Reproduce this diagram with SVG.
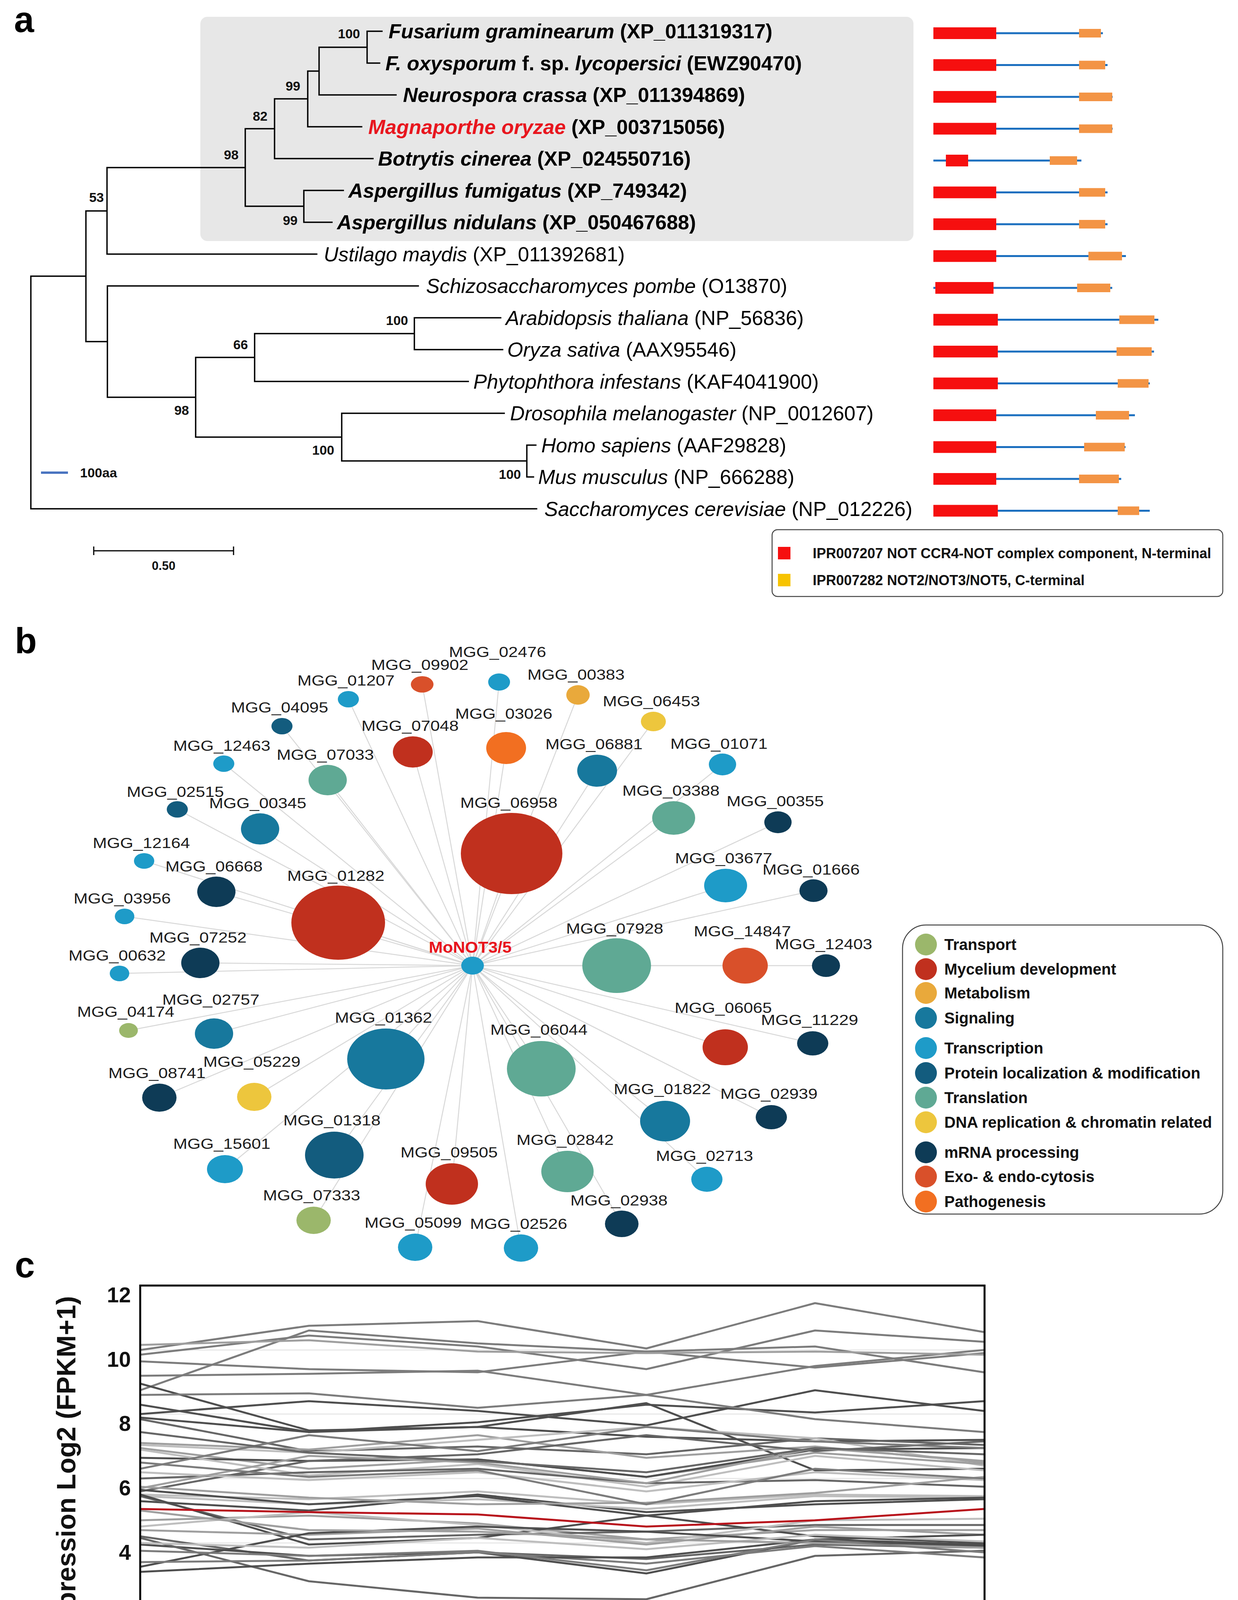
<svg xmlns="http://www.w3.org/2000/svg" width="3170" height="4397" viewBox="0 0 3170 4397">
<style>
text{font-family:"Liberation Sans",Arial,sans-serif}
.pl{font-size:92px;font-weight:bold;fill:#000}
.br{stroke:#000;stroke-width:3.5;fill:none;stroke-linecap:square}
.sp{font-size:52px;fill:#000}
.b{font-weight:bold}
.i{font-style:italic}
.bs{font-size:34px;font-weight:bold;text-anchor:end;fill:#111}
.dl{stroke:#1b6fbf;stroke-width:5}
.dr{fill:#f60f0f}
.do{fill:#f39445}
.leg{font-size:36px;font-weight:bold;fill:#111}
.edge{stroke:#d8d8d8;stroke-width:2.5}
.lab{font-size:36px;fill:#1c1c1c;text-anchor:middle}
.lt{font-size:40px;font-weight:bold;fill:#111}
.c1{fill:#9bb76b}.c2{fill:#c0301e}.c3{fill:#e9a93b}.c4{fill:#17789d}.c5{fill:#1e9bc8}.c6{fill:#135c7e}.c7{fill:#5fa994}.c8{fill:#edc63d}.c9{fill:#0e3b56}.c10{fill:#d9502a}.c11{fill:#f26f21}
.grid{stroke:#e8e8e8;stroke-width:3}
.ln{fill:none;stroke-width:5;stroke-linejoin:round}
.g1{stroke:#7c7c7c}.g2{stroke:#4e4e4e}.g3{stroke:#9f9f9f}.g4{stroke:#bebebe}.g5{stroke:#666}
.tk{font-size:55px;font-weight:bold;text-anchor:end;fill:#111}
.xl{font-size:56px;font-weight:bold;text-anchor:middle;fill:#111}
</style>

<!-- ================= Panel a ================= -->
<text class="pl" x="36" y="82">a</text>
<rect x="513" y="43" width="1826" height="574" rx="18" fill="#e7e7e7"/>

<g id="tree">
<path class="br" d="M940 80V161.5M940 80H978M940 161.5H972
M817 121V243M817 121H940M817 243H1014
M788 182V324.5M788 182H817M788 324.5H926
M703 253V406M703 253H788M703 406H955
M778 487.5V569M778 487.5H879M778 569H850
M628 329.5V528M628 329.5H703M628 528H778
M274 429V650.5M274 429H628M274 650.5H811
M1061 813.5V895M1061 813.5H1282M1061 895H1287
M652 854V976.5M652 854H1061M652 976.5H1199
M1349 1139.5V1221M1349 1139.5H1372M1349 1221H1366
M875 1058V1180M875 1058H1291M875 1180H1349
M501 915V1119M501 915H652M501 1119H875
M275 732V1017M275 732H1071M275 1017H501
M220 540V874.5M220 540H274M220 874.5H275
M79 707V1302.5M79 707H220M79 1302.5H1374"/>
<text class="bs" x="922" y="98">100</text>
<text class="bs" x="769" y="232">99</text>
<text class="bs" x="685" y="309">82</text>
<text class="bs" x="611" y="408">98</text>
<text class="bs" x="762" y="576">99</text>
<text class="bs" x="266" y="517">53</text>
<text class="bs" x="1045" y="832">100</text>
<text class="bs" x="635" y="894">66</text>
<text class="bs" x="484" y="1062">98</text>
<text class="bs" x="856" y="1164">100</text>
<text class="bs" x="1334" y="1226">100</text>
</g>

<g id="tax-fusarium"><text class="sp b" x="995" y="98"><tspan class="i">Fusarium graminearum</tspan> (XP_011319317)</text>
<line class="dl" x1="2390" y1="85" x2="2824" y2="85"/><rect class="dr" x="2390" y="70" width="161" height="30"/><rect class="do" x="2763" y="74" width="56" height="22"/></g>
<g id="tax-foxysporum"><text class="sp b" x="987" y="179.5"><tspan class="i">F. oxysporum</tspan> f. sp. <tspan class="i">lycopersici</tspan> (EWZ90470)</text>
<line class="dl" x1="2390" y1="166.5" x2="2836" y2="166.5"/><rect class="dr" x="2390" y="151.5" width="161" height="30"/><rect class="do" x="2763" y="155.5" width="67" height="22"/></g>
<g id="tax-neurospora"><text class="sp b" x="1032" y="261"><tspan class="i">Neurospora crassa</tspan> (XP_011394869)</text>
<line class="dl" x1="2390" y1="248" x2="2849" y2="248"/><rect class="dr" x="2390" y="233" width="161" height="30"/><rect class="do" x="2763" y="237" width="85" height="22"/></g>
<g id="tax-magnaporthe"><text class="sp b" x="943" y="342.5"><tspan class="i" fill="#e8161e">Magnaporthe oryzae</tspan> (XP_003715056)</text>
<line class="dl" x1="2390" y1="329.5" x2="2849" y2="329.5"/><rect class="dr" x="2390" y="314.5" width="161" height="30"/><rect class="do" x="2763" y="318.5" width="85" height="22"/></g>
<g id="tax-botrytis"><text class="sp b" x="968" y="424"><tspan class="i">Botrytis cinerea</tspan> (XP_024550716)</text>
<line class="dl" x1="2390" y1="411" x2="2769" y2="411"/><rect class="dr" x="2422" y="396" width="57" height="30"/><rect class="do" x="2688" y="400" width="70" height="22"/></g>
<g id="tax-afumigatus"><text class="sp b" x="892" y="505.5"><tspan class="i">Aspergillus fumigatus</tspan> (XP_749342)</text>
<line class="dl" x1="2390" y1="492.5" x2="2836" y2="492.5"/><rect class="dr" x="2390" y="477.5" width="161" height="30"/><rect class="do" x="2763" y="481.5" width="67" height="22"/></g>
<g id="tax-anidulans"><text class="sp b" x="863" y="587"><tspan class="i">Aspergillus nidulans</tspan> (XP_050467688)</text>
<line class="dl" x1="2390" y1="574" x2="2836" y2="574"/><rect class="dr" x="2390" y="559" width="161" height="30"/><rect class="do" x="2763" y="563" width="67" height="22"/></g>
<g id="tax-ustilago"><text class="sp" x="829" y="668.5"><tspan class="i">Ustilago maydis</tspan> (XP_011392681)</text>
<line class="dl" x1="2390" y1="655.5" x2="2883" y2="655.5"/><rect class="dr" x="2390" y="640.5" width="161" height="30"/><rect class="do" x="2787" y="644.5" width="86" height="22"/></g>
<g id="tax-schizo"><text class="sp" x="1091" y="750"><tspan class="i">Schizosaccharomyces pombe</tspan> (O13870)</text>
<line class="dl" x1="2390" y1="737" x2="2848" y2="737"/><rect class="dr" x="2395" y="722" width="149" height="30"/><rect class="do" x="2758" y="726" width="85" height="22"/></g>
<g id="tax-arabidopsis"><text class="sp" x="1295" y="831.5"><tspan class="i">Arabidopsis thaliana</tspan> (NP_56836)</text>
<line class="dl" x1="2390" y1="818.5" x2="2966" y2="818.5"/><rect class="dr" x="2390" y="803.5" width="165" height="30"/><rect class="do" x="2866" y="807.5" width="90" height="22"/></g>
<g id="tax-oryza"><text class="sp" x="1299" y="913"><tspan class="i">Oryza sativa</tspan> (AAX95546)</text>
<line class="dl" x1="2390" y1="900" x2="2955" y2="900"/><rect class="dr" x="2390" y="885" width="165" height="30"/><rect class="do" x="2859" y="889" width="90" height="22"/></g>
<g id="tax-phytophthora"><text class="sp" x="1212" y="994.5"><tspan class="i">Phytophthora infestans</tspan> (KAF4041900)</text>
<line class="dl" x1="2390" y1="981.5" x2="2944" y2="981.5"/><rect class="dr" x="2390" y="966.5" width="165" height="30"/><rect class="do" x="2862" y="970.5" width="79" height="22"/></g>
<g id="tax-drosophila"><text class="sp" x="1306" y="1076"><tspan class="i">Drosophila melanogaster</tspan> (NP_0012607)</text>
<line class="dl" x1="2390" y1="1063" x2="2906" y2="1063"/><rect class="dr" x="2390" y="1048" width="161" height="30"/><rect class="do" x="2806" y="1052" width="85" height="22"/></g>
<g id="tax-homo"><text class="sp" x="1386" y="1157.5"><tspan class="i">Homo sapiens</tspan> (AAF29828)</text>
<line class="dl" x1="2390" y1="1144.5" x2="2882" y2="1144.5"/><rect class="dr" x="2390" y="1129.5" width="161" height="30"/><rect class="do" x="2776" y="1133.5" width="104" height="22"/></g>
<g id="tax-mus"><text class="sp" x="1378" y="1239"><tspan class="i">Mus musculus</tspan> (NP_666288)</text>
<line class="dl" x1="2390" y1="1226" x2="2871" y2="1226"/><rect class="dr" x="2390" y="1211" width="161" height="30"/><rect class="do" x="2763" y="1215" width="102" height="22"/></g>
<g id="tax-saccharomyces"><text class="sp" x="1394" y="1320.5"><tspan class="i">Saccharomyces cerevisiae</tspan> (NP_012226)</text>
<line class="dl" x1="2390" y1="1307.5" x2="2944" y2="1307.5"/><rect class="dr" x="2390" y="1292.5" width="165" height="30"/><rect class="do" x="2862" y="1296.5" width="55" height="22"/></g>

<g id="scale-100aa"><line x1="105" y1="1210" x2="174" y2="1210" stroke="#4a74c0" stroke-width="6"/>
<text x="205" y="1222" font-size="34" font-weight="bold" fill="#111">100aa</text></g>
<g id="scale-050"><path d="M240 1410H598M240 1399V1421M598 1399V1421" stroke="#000" stroke-width="3" fill="none"/>
<text x="419" y="1459" font-size="31" font-weight="bold" text-anchor="middle" fill="#111">0.50</text></g>

<g id="legend-a">
<rect x="1977" y="1356" width="1154" height="171" rx="14" fill="#fff" stroke="#444" stroke-width="2.5"/>
<rect x="1992" y="1400" width="32" height="32" fill="#f60f0f"/>
<text class="leg" x="2081" y="1429">IPR007207 NOT CCR4-NOT complex component, N-terminal</text>
<rect x="1992" y="1469" width="32" height="32" fill="#f7c300"/>
<text class="leg" x="2081" y="1498">IPR007282 NOT2/NOT3/NOT5, C-terminal</text>
</g>

<!-- ================= Panel b ================= -->
<text class="pl" x="38" y="1672">b</text>

<g id="edges">
<line class="edge" x1="1210" y1="2472" x2="1081" y2="1752"/>
<line class="edge" x1="1210" y1="2472" x2="892" y2="1790"/>
<line class="edge" x1="1210" y1="2472" x2="722" y2="1859"/>
<line class="edge" x1="1210" y1="2472" x2="573" y2="1955"/>
<line class="edge" x1="1210" y1="2472" x2="839" y2="1997"/>
<line class="edge" x1="1210" y1="2472" x2="1057" y2="1925"/>
<line class="edge" x1="1210" y1="2472" x2="454" y2="2072"/>
<line class="edge" x1="1210" y1="2472" x2="666" y2="2122"/>
<line class="edge" x1="1210" y1="2472" x2="369" y2="2204"/>
<line class="edge" x1="1210" y1="2472" x2="554" y2="2283"/>
<line class="edge" x1="1210" y1="2472" x2="866" y2="2362"/>
<line class="edge" x1="1210" y1="2472" x2="319" y2="2346"/>
<line class="edge" x1="1210" y1="2472" x2="513" y2="2465"/>
<line class="edge" x1="1210" y1="2472" x2="306" y2="2492"/>
<line class="edge" x1="1210" y1="2472" x2="329" y2="2638"/>
<line class="edge" x1="1210" y1="2472" x2="548" y2="2646"/>
<line class="edge" x1="1210" y1="2472" x2="1278" y2="1746"/>
<line class="edge" x1="1210" y1="2472" x2="1480" y2="1779"/>
<line class="edge" x1="1210" y1="2472" x2="1673" y2="1847"/>
<line class="edge" x1="1210" y1="2472" x2="1296" y2="1915"/>
<line class="edge" x1="1210" y1="2472" x2="1529" y2="1973"/>
<line class="edge" x1="1210" y1="2472" x2="1850" y2="1957"/>
<line class="edge" x1="1210" y1="2472" x2="1310" y2="2185"/>
<line class="edge" x1="1210" y1="2472" x2="1725" y2="2094"/>
<line class="edge" x1="1210" y1="2472" x2="1992" y2="2105"/>
<line class="edge" x1="1210" y1="2472" x2="1858" y2="2267"/>
<line class="edge" x1="1210" y1="2472" x2="2083" y2="2280"/>
<line class="edge" x1="1210" y1="2472" x2="1579" y2="2472"/>
<line class="edge" x1="1210" y1="2472" x2="1908" y2="2472"/>
<line class="edge" x1="1210" y1="2472" x2="2115" y2="2472"/>
<line class="edge" x1="1210" y1="2472" x2="988" y2="2711"/>
<line class="edge" x1="1210" y1="2472" x2="1386" y2="2736"/>
<line class="edge" x1="1210" y1="2472" x2="1857" y2="2681"/>
<line class="edge" x1="1210" y1="2472" x2="2081" y2="2671"/>
<line class="edge" x1="1210" y1="2472" x2="408" y2="2810"/>
<line class="edge" x1="1210" y1="2472" x2="651" y2="2808"/>
<line class="edge" x1="1210" y1="2472" x2="1703" y2="2870"/>
<line class="edge" x1="1210" y1="2472" x2="1975" y2="2860"/>
<line class="edge" x1="1210" y1="2472" x2="856" y2="2957"/>
<line class="edge" x1="1210" y1="2472" x2="576" y2="2993"/>
<line class="edge" x1="1210" y1="2472" x2="1157" y2="3031"/>
<line class="edge" x1="1210" y1="2472" x2="1453" y2="2999"/>
<line class="edge" x1="1210" y1="2472" x2="1810" y2="3019"/>
<line class="edge" x1="1210" y1="2472" x2="803" y2="3124"/>
<line class="edge" x1="1210" y1="2472" x2="1592" y2="3133"/>
<line class="edge" x1="1210" y1="2472" x2="1063" y2="3193"/>
<line class="edge" x1="1210" y1="2472" x2="1334" y2="3195"/>
</g>

<g id="n-MGG_09902"><ellipse class="c10" cx="1081" cy="1752" rx="29" ry="21"/><text class="lab" x="1075" y="1715" textLength="249" lengthAdjust="spacingAndGlyphs">MGG_09902</text></g>
<g id="n-MGG_01207"><ellipse class="c5" cx="892" cy="1790" rx="27" ry="21"/><text class="lab" x="886" y="1755" textLength="249" lengthAdjust="spacingAndGlyphs">MGG_01207</text></g>
<g id="n-MGG_04095"><ellipse class="c6" cx="722" cy="1859" rx="27" ry="21"/><text class="lab" x="716" y="1824" textLength="249" lengthAdjust="spacingAndGlyphs">MGG_04095</text></g>
<g id="n-MGG_12463"><ellipse class="c5" cx="573" cy="1955" rx="27" ry="21"/><text class="lab" x="568" y="1922" textLength="249" lengthAdjust="spacingAndGlyphs">MGG_12463</text></g>
<g id="n-MGG_07033"><ellipse class="c7" cx="839" cy="1997" rx="49" ry="39"/><text class="lab" x="833" y="1945" textLength="249" lengthAdjust="spacingAndGlyphs">MGG_07033</text></g>
<g id="n-MGG_07048"><ellipse class="c2" cx="1057" cy="1925" rx="51" ry="40"/><text class="lab" x="1050" y="1871" textLength="249" lengthAdjust="spacingAndGlyphs">MGG_07048</text></g>
<g id="n-MGG_02515"><ellipse class="c6" cx="454" cy="2072" rx="27" ry="21"/><text class="lab" x="449" y="2040" textLength="249" lengthAdjust="spacingAndGlyphs">MGG_02515</text></g>
<g id="n-MGG_00345"><ellipse class="c4" cx="666" cy="2122" rx="49" ry="40"/><text class="lab" x="660" y="2069" textLength="249" lengthAdjust="spacingAndGlyphs">MGG_00345</text></g>
<g id="n-MGG_12164"><ellipse class="c5" cx="369" cy="2204" rx="26" ry="20"/><text class="lab" x="362" y="2171" textLength="249" lengthAdjust="spacingAndGlyphs">MGG_12164</text></g>
<g id="n-MGG_06668"><ellipse class="c9" cx="554" cy="2283" rx="49" ry="39"/><text class="lab" x="548" y="2231" textLength="249" lengthAdjust="spacingAndGlyphs">MGG_06668</text></g>
<g id="n-MGG_01282"><ellipse class="c2" cx="866" cy="2362" rx="120" ry="95"/><text class="lab" x="860" y="2255" textLength="249" lengthAdjust="spacingAndGlyphs">MGG_01282</text></g>
<g id="n-MGG_03956"><ellipse class="c5" cx="319" cy="2346" rx="25" ry="20"/><text class="lab" x="313" y="2313" textLength="249" lengthAdjust="spacingAndGlyphs">MGG_03956</text></g>
<g id="n-MGG_07252"><ellipse class="c9" cx="513" cy="2465" rx="49" ry="39"/><text class="lab" x="507" y="2413" textLength="249" lengthAdjust="spacingAndGlyphs">MGG_07252</text></g>
<g id="n-MGG_00632"><ellipse class="c5" cx="306" cy="2492" rx="25" ry="20"/><text class="lab" x="300" y="2459" textLength="249" lengthAdjust="spacingAndGlyphs">MGG_00632</text></g>
<g id="n-MGG_04174"><ellipse class="c1" cx="329" cy="2638" rx="24" ry="19"/><text class="lab" x="322" y="2603" textLength="249" lengthAdjust="spacingAndGlyphs">MGG_04174</text></g>
<g id="n-MGG_02757"><ellipse class="c4" cx="548" cy="2646" rx="49" ry="39"/><text class="lab" x="540" y="2572" textLength="249" lengthAdjust="spacingAndGlyphs">MGG_02757</text></g>
<g id="n-MGG_02476"><ellipse class="c5" cx="1278" cy="1746" rx="28" ry="22"/><text class="lab" x="1274" y="1682" textLength="249" lengthAdjust="spacingAndGlyphs">MGG_02476</text></g>
<g id="n-MGG_00383"><ellipse class="c3" cx="1480" cy="1779" rx="30" ry="25"/><text class="lab" x="1475" y="1740" textLength="249" lengthAdjust="spacingAndGlyphs">MGG_00383</text></g>
<g id="n-MGG_06453"><ellipse class="c8" cx="1673" cy="1847" rx="32" ry="25"/><text class="lab" x="1668" y="1808" textLength="249" lengthAdjust="spacingAndGlyphs">MGG_06453</text></g>
<g id="n-MGG_03026"><ellipse class="c11" cx="1296" cy="1915" rx="51" ry="41"/><text class="lab" x="1290" y="1840" textLength="249" lengthAdjust="spacingAndGlyphs">MGG_03026</text></g>
<g id="n-MGG_06881"><ellipse class="c4" cx="1529" cy="1973" rx="51" ry="41"/><text class="lab" x="1521" y="1918" textLength="249" lengthAdjust="spacingAndGlyphs">MGG_06881</text></g>
<g id="n-MGG_01071"><ellipse class="c5" cx="1850" cy="1957" rx="35" ry="28"/><text class="lab" x="1841" y="1917" textLength="249" lengthAdjust="spacingAndGlyphs">MGG_01071</text></g>
<g id="n-MGG_06958"><ellipse class="c2" cx="1310" cy="2185" rx="130" ry="104"/><text class="lab" x="1303" y="2068" textLength="249" lengthAdjust="spacingAndGlyphs">MGG_06958</text></g>
<g id="n-MGG_03388"><ellipse class="c7" cx="1725" cy="2094" rx="55" ry="43"/><text class="lab" x="1718" y="2037" textLength="249" lengthAdjust="spacingAndGlyphs">MGG_03388</text></g>
<g id="n-MGG_00355"><ellipse class="c9" cx="1992" cy="2105" rx="35" ry="28"/><text class="lab" x="1985" y="2064" textLength="249" lengthAdjust="spacingAndGlyphs">MGG_00355</text></g>
<g id="n-MGG_03677"><ellipse class="c5" cx="1858" cy="2267" rx="55" ry="43"/><text class="lab" x="1853" y="2210" textLength="249" lengthAdjust="spacingAndGlyphs">MGG_03677</text></g>
<g id="n-MGG_01666"><ellipse class="c9" cx="2083" cy="2280" rx="36" ry="29"/><text class="lab" x="2077" y="2239" textLength="249" lengthAdjust="spacingAndGlyphs">MGG_01666</text></g>
<g id="n-MGG_07928"><ellipse class="c7" cx="1579" cy="2472" rx="88" ry="70"/><text class="lab" x="1574" y="2390" textLength="249" lengthAdjust="spacingAndGlyphs">MGG_07928</text></g>
<g id="n-MGG_14847"><ellipse class="c10" cx="1908" cy="2472" rx="58" ry="46"/><text class="lab" x="1901" y="2397" textLength="249" lengthAdjust="spacingAndGlyphs">MGG_14847</text></g>
<g id="n-MGG_12403"><ellipse class="c9" cx="2115" cy="2472" rx="36" ry="29"/><text class="lab" x="2109" y="2430" textLength="249" lengthAdjust="spacingAndGlyphs">MGG_12403</text></g>
<g id="n-MGG_01362"><ellipse class="c4" cx="988" cy="2711" rx="99" ry="78"/><text class="lab" x="982" y="2618" textLength="249" lengthAdjust="spacingAndGlyphs">MGG_01362</text></g>
<g id="n-MGG_06044"><ellipse class="c7" cx="1386" cy="2736" rx="88" ry="71"/><text class="lab" x="1380" y="2649" textLength="249" lengthAdjust="spacingAndGlyphs">MGG_06044</text></g>
<g id="n-MGG_06065"><ellipse class="c2" cx="1857" cy="2681" rx="58" ry="46"/><text class="lab" x="1852" y="2593" textLength="249" lengthAdjust="spacingAndGlyphs">MGG_06065</text></g>
<g id="n-MGG_11229"><ellipse class="c9" cx="2081" cy="2671" rx="40" ry="31"/><text class="lab" x="2073" y="2624" textLength="249" lengthAdjust="spacingAndGlyphs">MGG_11229</text></g>
<g id="n-MGG_08741"><ellipse class="c9" cx="408" cy="2810" rx="44" ry="36"/><text class="lab" x="402" y="2760" textLength="249" lengthAdjust="spacingAndGlyphs">MGG_08741</text></g>
<g id="n-MGG_05229"><ellipse class="c8" cx="651" cy="2808" rx="44" ry="36"/><text class="lab" x="645" y="2731" textLength="249" lengthAdjust="spacingAndGlyphs">MGG_05229</text></g>
<g id="n-MGG_01822"><ellipse class="c4" cx="1703" cy="2870" rx="64" ry="52"/><text class="lab" x="1696" y="2801" textLength="249" lengthAdjust="spacingAndGlyphs">MGG_01822</text></g>
<g id="n-MGG_02939"><ellipse class="c9" cx="1975" cy="2860" rx="40" ry="31"/><text class="lab" x="1969" y="2813" textLength="249" lengthAdjust="spacingAndGlyphs">MGG_02939</text></g>
<g id="n-MGG_01318"><ellipse class="c6" cx="856" cy="2957" rx="75" ry="60"/><text class="lab" x="850" y="2881" textLength="249" lengthAdjust="spacingAndGlyphs">MGG_01318</text></g>
<g id="n-MGG_15601"><ellipse class="c5" cx="576" cy="2993" rx="46" ry="36"/><text class="lab" x="568" y="2941" textLength="249" lengthAdjust="spacingAndGlyphs">MGG_15601</text></g>
<g id="n-MGG_09505"><ellipse class="c2" cx="1157" cy="3031" rx="67" ry="53"/><text class="lab" x="1150" y="2963" textLength="249" lengthAdjust="spacingAndGlyphs">MGG_09505</text></g>
<g id="n-MGG_02842"><ellipse class="c7" cx="1453" cy="2999" rx="67" ry="53"/><text class="lab" x="1447" y="2931" textLength="249" lengthAdjust="spacingAndGlyphs">MGG_02842</text></g>
<g id="n-MGG_02713"><ellipse class="c5" cx="1810" cy="3019" rx="40" ry="32"/><text class="lab" x="1804" y="2972" textLength="249" lengthAdjust="spacingAndGlyphs">MGG_02713</text></g>
<g id="n-MGG_07333"><ellipse class="c1" cx="803" cy="3124" rx="44" ry="35"/><text class="lab" x="798" y="3073" textLength="249" lengthAdjust="spacingAndGlyphs">MGG_07333</text></g>
<g id="n-MGG_02938"><ellipse class="c9" cx="1592" cy="3133" rx="43" ry="34"/><text class="lab" x="1585" y="3086" textLength="249" lengthAdjust="spacingAndGlyphs">MGG_02938</text></g>
<g id="n-MGG_05099"><ellipse class="c5" cx="1063" cy="3193" rx="44" ry="35"/><text class="lab" x="1058" y="3143" textLength="249" lengthAdjust="spacingAndGlyphs">MGG_05099</text></g>
<g id="n-MGG_02526"><ellipse class="c5" cx="1334" cy="3195" rx="44" ry="35"/><text class="lab" x="1328" y="3146" textLength="249" lengthAdjust="spacingAndGlyphs">MGG_02526</text></g>
<g id="n-MoNOT3-5"><ellipse class="c5" cx="1210" cy="2472" rx="29" ry="23"/><text x="1098" y="2439" font-size="40" font-weight="bold" fill="#e8141c" textLength="212" lengthAdjust="spacingAndGlyphs">MoNOT3/5</text></g>

<g id="legend-b">
<rect x="2311" y="2368" width="820" height="740" rx="60" fill="#fff" stroke="#444" stroke-width="2.5"/>
<circle class="c1" cx="2371" cy="2418" r="28"/><text class="lt" x="2418" y="2432">Transport</text>
<circle class="c2" cx="2371" cy="2481" r="28"/><text class="lt" x="2418" y="2495">Mycelium development</text>
<circle class="c3" cx="2371" cy="2542" r="28"/><text class="lt" x="2418" y="2556">Metabolism</text>
<circle class="c4" cx="2371" cy="2606" r="28"/><text class="lt" x="2418" y="2620">Signaling</text>
<circle class="c5" cx="2371" cy="2683" r="28"/><text class="lt" x="2418" y="2697">Transcription</text>
<circle class="c6" cx="2371" cy="2747" r="28"/><text class="lt" x="2418" y="2761">Protein localization &amp; modification</text>
<circle class="c7" cx="2371" cy="2810" r="28"/><text class="lt" x="2418" y="2824">Translation</text>
<circle class="c8" cx="2371" cy="2873" r="28"/><text class="lt" x="2418" y="2887">DNA replication &amp; chromatin related</text>
<circle class="c9" cx="2371" cy="2950" r="28"/><text class="lt" x="2418" y="2964">mRNA processing</text>
<circle class="c10" cx="2371" cy="3012" r="28"/><text class="lt" x="2418" y="3026">Exo- &amp; endo-cytosis</text>
<circle class="c11" cx="2371" cy="3076" r="28"/><text class="lt" x="2418" y="3090">Pathogenesis</text>
</g>

<!-- ================= Panel c ================= -->
<text class="pl" x="38" y="3270">c</text>
<g id="chart">
<path class="grid" d="M362 4114H2518M362 3950H2518M362 3785H2518M362 3620H2518M362 3456H2518"/>
<g id="series">
<polyline class="ln g1" points="359,3456 791,3394 1223,3382 1655,3452 2087,3336 2519,3410"/>
<polyline class="ln g1" points="359,3468 791,3419 1223,3447 1655,3505 2087,3406 2519,3435"/>
<polyline class="ln g1" points="359,3559 791,3406 1223,3439 1655,3460 2087,3447 2519,3513"/>
<polyline class="ln g1" points="359,3485 791,3505 1223,3513 1655,3460 2087,3501 2519,3464"/>
<polyline class="ln g1" points="359,3522 791,3517 1223,3509 1655,3571 2087,3497 2519,3456"/>
<polyline class="ln g3" points="359,3443 791,3431 1223,3460 1655,3464 2087,3460 2519,3468"/>
<polyline class="ln g2" points="359,3542 791,3662 1223,3653 1655,3592 2087,3764 2519,3760"/>
<polyline class="ln g2" points="359,3620 791,3587 1223,3612 1655,3649 2087,3559 2519,3612"/>
<polyline class="ln g2" points="359,3629 791,3666 1223,3641 1655,3596 2087,3616 2519,3587"/>
<polyline class="ln g1" points="359,3571 791,3567 1223,3604 1655,3571 2087,3633 2519,3666"/>
<polyline class="ln g2" points="359,3596 791,3666 1223,3653 1655,3678 2087,3690 2519,3686"/>
<polyline class="ln g5" points="359,3633 791,3715 1223,3703 1655,3723 2087,3682 2519,3699"/>
<polyline class="ln g3" points="359,3694 791,3711 1223,3674 1655,3732 2087,3703 2519,3744"/>
<polyline class="ln g4" points="359,3699 791,3719 1223,3686 1655,3653 2087,3682 2519,3752"/>
<polyline class="ln g3" points="359,3707 791,3760 1223,3736 1655,3781 2087,3719 2519,3748"/>
<polyline class="ln g2" points="359,3732 791,3740 1223,3736 1655,3781 2087,3711 2519,3707"/>
<polyline class="ln g5" points="359,3818 791,3740 1223,3723 1655,3674 2087,3715 2519,3690"/>
<polyline class="ln g4" points="359,3711 791,3777 1223,3748 1655,3806 2087,3727 2519,3764"/>
<polyline class="ln g1" points="359,3760 791,3674 1223,3715 1655,3653 2087,3690 2519,3707"/>
<polyline class="ln g5" points="359,3785 791,3769 1223,3760 1655,3797 2087,3789 2519,3806"/>
<polyline class="ln g4" points="359,3769 791,3789 1223,3769 1655,3818 2087,3769 2519,3789"/>
<polyline class="ln g3" points="359,3810 791,3727 1223,3744 1655,3797 2087,3707 2519,3740"/>
<polyline class="ln g4" points="359,3826 791,3838 1223,3818 1655,3851 2087,3826 2519,3830"/>
<polyline class="ln g2" points="359,3843 791,3867 1223,3826 1655,3871 2087,3851 2519,3838"/>
<polyline class="ln g4" points="359,3830 791,3851 1223,3838 1655,3863 2087,3830 2519,3834"/>
<polyline class="ln g3" points="359,3892 791,3880 1223,3900 1655,3941 2087,3917 2519,3917"/>
<polyline class="ln g5" points="359,3830 791,3941 1223,3929 1655,3921 2087,3904 2519,3904"/>
<polyline class="ln g2" points="359,3826 791,3954 1223,3937 1655,3880 2087,3933 2519,3950"/>
<polyline class="ln g4" points="359,3908 791,3871 1223,3904 1655,3950 2087,3892 2519,3888"/>
<polyline class="ln g3" points="359,3917 791,3929 1223,3913 1655,3954 2087,3908 2519,3929"/>
<polyline class="ln g5" points="359,3933 791,3995 1223,3974 1655,3991 2087,3954 2519,3962"/>
<polyline class="ln g2" points="359,4011 791,3925 1223,3908 1655,3921 2087,3946 2519,3958"/>
<polyline class="ln g2" points="359,3954 791,3983 1223,3974 1655,4028 2087,3941 2519,3954"/>
<polyline class="ln g5" points="359,3937 791,4048 1223,4090 1655,4094 2087,3983 2519,3970"/>
<polyline class="ln g1" points="359,3999 791,3995 1223,3974 1655,4003 2087,3958 2519,3987"/>
<polyline class="ln g2" points="359,4024 791,4003 1223,3987 1655,3987 2087,3941 2519,3929"/>
<polyline class="ln g4" points="359,3950 791,3962 1223,3937 1655,3966 2087,3929 2519,3946"/>
<polyline class="ln g3" points="359,3867 791,3917 1223,3921 1655,3941 2087,3950 2519,3962"/>
<polyline class="ln g1" points="359,3970 791,3983 1223,3970 1655,4020 2087,3941 2519,3974"/>
<polyline class="ln g2" points="359,3814 791,3851 1223,3830 1655,3880 2087,3843 2519,3834"/>
<polyline class="ln g3" points="359,3806 791,3834 1223,3851 1655,3847 2087,3822 2519,3781"/>
<polyline class="ln g1" points="359,3744 791,3781 1223,3764 1655,3851 2087,3760 2519,3785"/>
<polyline class="ln g5" points="359,3666 791,3719 1223,3740 1655,3769 2087,3707 2519,3723"/>
</g>
<polyline id="series-MoNOT3-5" class="ln" stroke="#b8121b" stroke-width="6" points="359,3863 791,3871 1223,3877 1655,3908 2087,3892 2519,3863"/>
<rect x="359" y="3291" width="2162" height="988" fill="none" stroke="#000" stroke-width="5"/>
<text class="tk" x="335" y="3334">12</text>
<text class="tk" x="335" y="3499">10</text>
<text class="tk" x="335" y="3663">8</text>
<text class="tk" x="335" y="3828">6</text>
<text class="tk" x="335" y="3993">4</text>
<text class="tk" x="335" y="4157">2</text>
<text class="tk" x="335" y="4308">0</text>
<text x="193" y="3759" transform="rotate(-90 193 3759)" font-size="68" font-weight="bold" text-anchor="middle" fill="#111">Expression Log2 (FPKM+1)</text>
<text class="xl" x="390" y="4372">Mycelia</text>
<text class="xl" x="772" y="4372">18 hpi</text>
<text class="xl" x="1210" y="4372">27 hpi</text>
<text class="xl" x="1647" y="4372">36 hpi</text>
<text class="xl" x="2083" y="4372">45 hpi</text>
<text class="xl" x="2521" y="4372">72 hpi</text>
</g>
</svg>
